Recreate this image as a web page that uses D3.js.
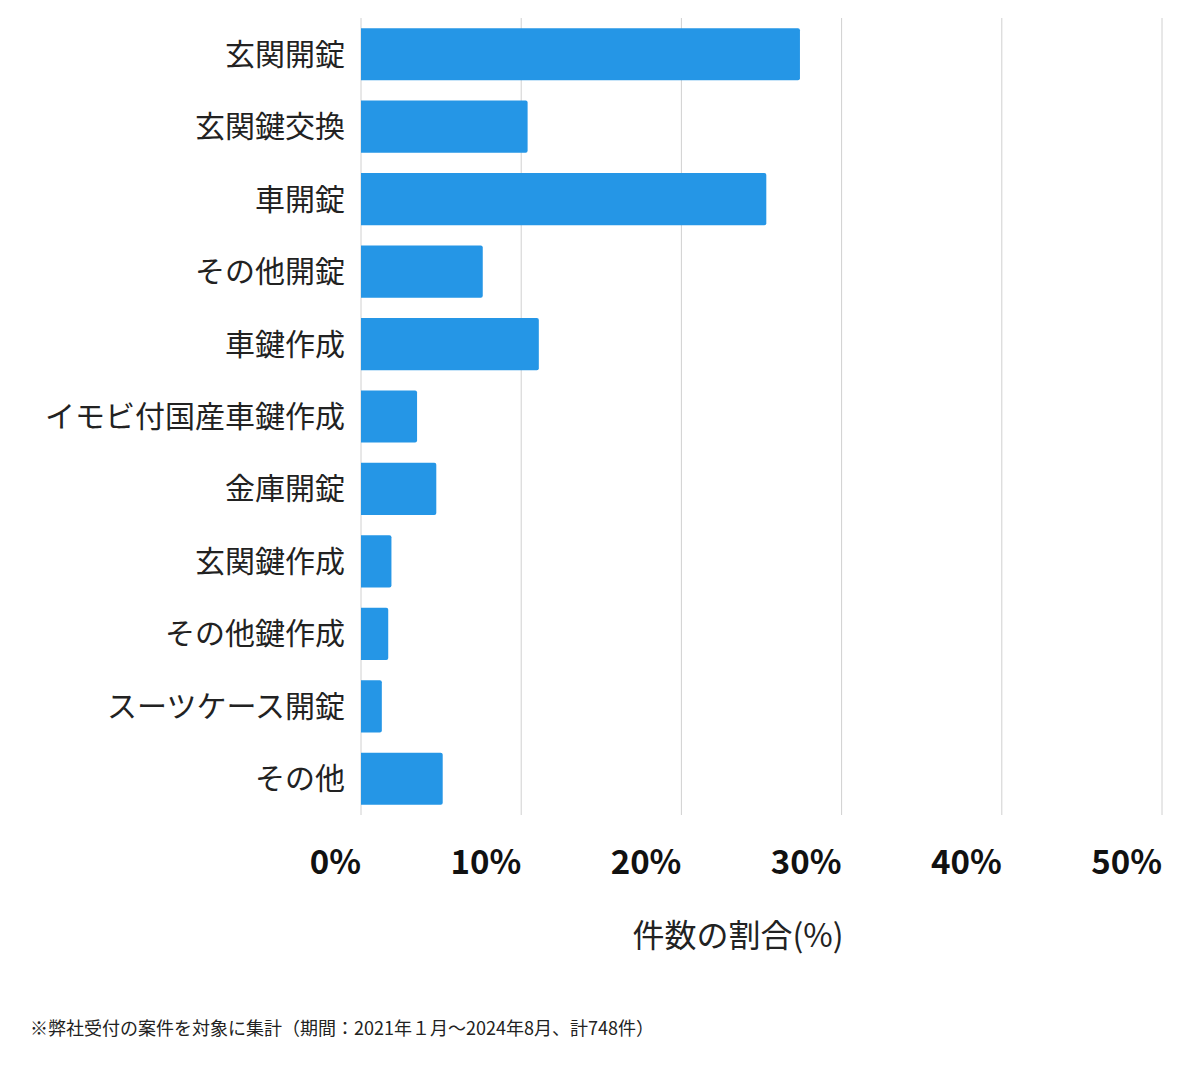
<!DOCTYPE html>
<html><head><meta charset="utf-8">
<script src="https://cdn.jsdelivr.net/npm/d3@7"></script>
<style>body{margin:0;background:#fff}text{font-family:"Noto Sans CJK JP","Noto Sans",sans-serif}</style>
</head><body><svg id="c" width="1200" height="1069"></svg>
<script>
const categories=["玄関開錠","玄関鍵交換","車開錠","その他開錠","車鍵作成","イモビ付国産車鍵作成","金庫開錠","玄関鍵作成","その他鍵作成","スーツケース開錠","その他"];
const values=[27.4,10.4,25.3,7.6,11.1,3.5,4.7,1.9,1.7,1.3,5.1];
const ticks=[0,10,20,30,40,50];
const svg=d3.select("#c");
const x=d3.scaleLinear().domain([0,50]).range([361,1162]);
const y=d3.scaleBand().domain(categories).range([18,815]).paddingInner(0.28).paddingOuter(0.14);
svg.selectAll("line.g").data(ticks).join("line").attr("x1",d=>x(d)).attr("x2",d=>x(d)).attr("y1",18).attr("y2",815).attr("stroke","#d0d0d0").attr("stroke-width",1);
svg.selectAll("path.b").data(categories).join("path").attr("fill","#2596e6").attr("d",(c,i)=>{
 const x0=x(0),x1=x(values[i]),y0=y(c),h=y.bandwidth(),r=2;
 return `M${x0},${y0}H${x1-r}Q${x1},${y0} ${x1},${y0+r}V${y0+h-r}Q${x1},${y0+h} ${x1-r},${y0+h}H${x0}Z`;});
svg.selectAll("text.c").data(categories).join("text").attr("x",345).attr("y",c=>y(c)+y.bandwidth()/2).attr("dy","0.35em").attr("text-anchor","end").attr("font-size",30).attr("fill","#222").text(c=>c);
svg.selectAll("text.t").data(ticks).join("text").attr("x",d=>x(d)).attr("y",874).attr("text-anchor","end").attr("font-size",33).attr("font-weight","bold").attr("fill","#111").text(d=>d+"%");
svg.append("text").attr("x",738).attr("y",947).attr("text-anchor","middle").attr("font-size",32).attr("fill","#222").text("件数の割合(%)");
svg.append("text").attr("x",30).attr("y",1035).attr("font-size",18).attr("fill","#222").text("※弊社受付の案件を対象に集計（期間：2021年１月〜2024年8月、計748件）");
</script></body></html>
